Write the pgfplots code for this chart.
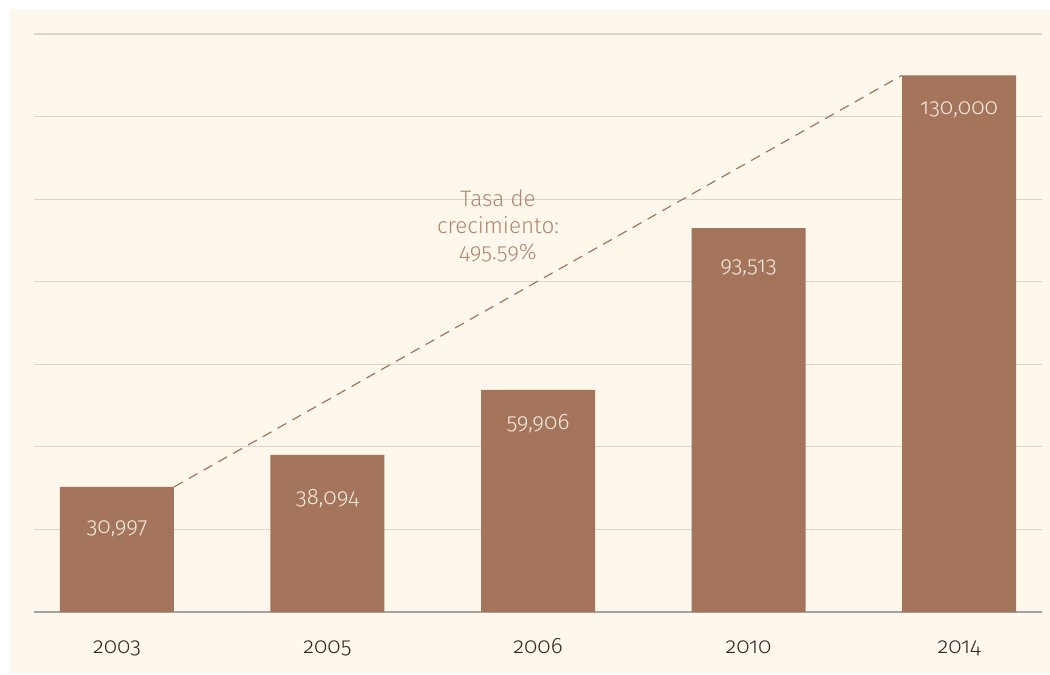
\documentclass[border=0pt]{standalone}
\usepackage{fontspec}
\setmainfont{Fira Sans}[UprightFont=* Light, Numbers=OldStyle]
\usepackage{pgfplots}
\pgfplotsset{compat=1.18}
\definecolor{cream}{RGB}{253,247,236}
\definecolor{barc}{RGB}{165,117,91}
\definecolor{annc}{RGB}{178,134,110}
\definecolor{gridc}{RGB}{218,214,206}
\definecolor{basec}{RGB}{165,163,160}
\definecolor{tickc}{RGB}{45,42,40}
\definecolor{valc}{RGB}{245,236,226}
\begin{document}
\begin{tikzpicture}
\path[use as bounding box] (0,0) rectangle (1050bp,675bp);
\fill[cream] (10bp,2bp) rectangle (1050bp,666bp);
\begin{axis}[
  at={(34bp,63bp)}, anchor=south west,
  scale only axis, width=1008bp, height=578bp,
  xmin=-0.394, xmax=4.394, ymin=0, ymax=140000,
  bar width=114bp,
  axis x line*=bottom, axis y line*=left,
  x axis line style={draw=basec, line width=1.2bp, -},
  y axis line style={draw=none},
  xtick={0,1,2,3,4},
  xticklabels={2003,2005,2006,2010,2014},
  xtick style={draw=none},
  xticklabel style={font=\fontsize{22.4}{26}\selectfont, text=tickc, anchor=base, yshift=-41bp},
  ytick={20000,40000,60000,80000,100000,120000,140000},
  scaled y ticks=false,
  yticklabels={},
  ytick style={draw=none},
  ymajorgrids, grid style={draw=gridc, line width=1.2bp},
  clip=false,
]
\addplot[ybar, fill=barc, draw=none] coordinates {(0,30300) (1,38050) (2,53800) (3,93000) (4,130000)};
\addplot[draw=none, mark=none, nodes near coords, point meta=explicit symbolic,
  every node near coord/.append style={font=\fontsize{22.5}{26}\selectfont, text=valc, anchor=base, inner sep=0pt}]
  coordinates {(0,18893) [30{,}997] (1,25917) [38{,}094] (2,44083) [59{,}906] (3,82352) [93{,}513] (4,120380) [130{,}000]};
\addplot[sharp plot, draw=barc, line width=1.2bp, dash pattern=on 10bp off 7bp] coordinates {(0.271,30300) (3.729,130000)};
\node[align=center, text=annc, font=\fontsize{22.5}{27}\selectfont] at (axis cs:1.81,93500) {Tasa de\\crecimiento:\\495.59\%};
\end{axis}
\end{tikzpicture}
\end{document}
